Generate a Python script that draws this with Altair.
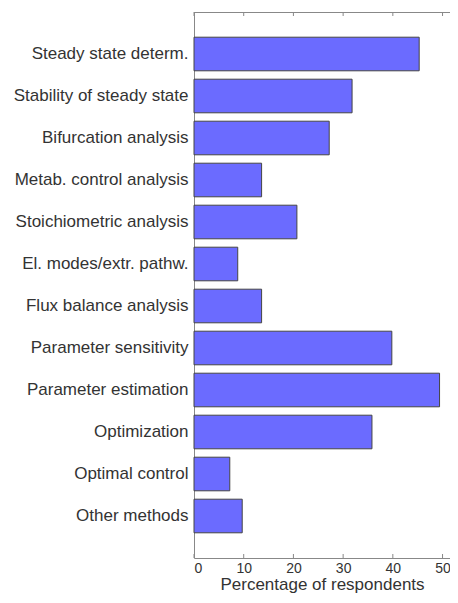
import altair as alt
import pandas as pd

methods = [
    "Steady state determ.",
    "Stability of steady state",
    "Bifurcation analysis",
    "Metab. control analysis",
    "Stoichiometric analysis",
    "El. modes/extr. pathw.",
    "Flux balance analysis",
    "Parameter sensitivity",
    "Parameter estimation",
    "Optimization",
    "Optimal control",
    "Other methods",
]
percentages = [45.3, 31.8, 27.2, 13.6, 20.7, 8.8, 13.6, 39.8, 49.4, 35.8, 7.2, 9.7]
tick_values = [0, 10, 20, 30, 40, 50]
x_title = "Percentage of respondents"

W, H = 256, 546
FONT = "Liberation Sans"
TEXT = "#333333"
FRAME = "#888888"

df = pd.DataFrame({"method": methods, "pct": percentages})
ticks_df = pd.DataFrame({"pct": tick_values})
one_row = pd.DataFrame({"a": [0]})

xscale = alt.Scale(domain=[0, 51.5], nice=False, zero=True)
xaxis = alt.Axis(
    values=tick_values,
    title=x_title,
    ticks=False,
    domain=True,
    domainColor=FRAME,
    grid=False,
    labelFontSize=14,
    labelPadding=3,
    labelColor=TEXT,
    labelFont=FONT,
    titleFontSize=17,
    titleFontWeight="normal",
    titleColor=TEXT,
    titleFont=FONT,
    titlePadding=1,
)

bars = alt.Chart(df).mark_bar(color="#6b6bff", stroke="#444444", strokeWidth=1).encode(
    x=alt.X("pct:Q", scale=xscale, axis=xaxis),
    y=alt.Y(
        "method:N",
        sort=methods,
        scale=alt.Scale(paddingInner=0.2, paddingOuter=0.6),
        axis=alt.Axis(
            title=None,
            ticks=False,
            domain=True,
            domainColor=FRAME,
            labelFontSize=17,
            labelPadding=6,
            labelColor=TEXT,
            labelFont=FONT,
            labelLimit=300,
        ),
    ),
)

bottom_ticks = alt.Chart(ticks_df).mark_rule(color=FRAME, strokeWidth=1).encode(
    x=alt.X("pct:Q", scale=xscale, axis=xaxis),
    y=alt.value(H),
    y2=alt.value(H - 4),
)
top_ticks = alt.Chart(ticks_df).mark_rule(color=FRAME, strokeWidth=1).encode(
    x=alt.X("pct:Q", scale=xscale, axis=xaxis),
    y=alt.value(0),
    y2=alt.value(4),
)
top_line = alt.Chart(one_row).mark_rule(color=FRAME, strokeWidth=1).encode(
    y=alt.value(0.5),
)

chart = (
    alt.layer(bars, bottom_ticks, top_ticks, top_line)
    .properties(
        width=W,
        height=H,
        autosize=alt.AutoSizeParams(type="none"),
        padding={"left": 186, "top": 4, "right": 0, "bottom": 37},
    )
    .configure_view(stroke=None)
)

chart.save("out.html", embed_options={"renderer": "svg", "actions": False})
